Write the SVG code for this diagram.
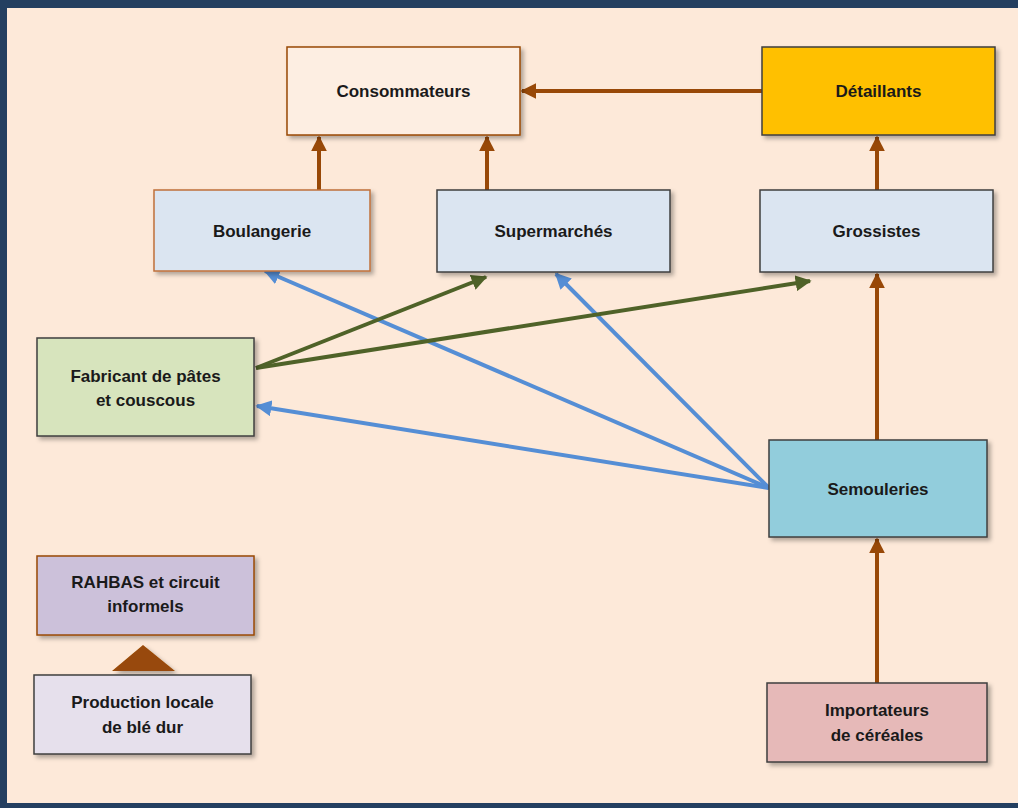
<svg xmlns="http://www.w3.org/2000/svg" width="1018" height="808" viewBox="0 0 1018 808">
<defs>
<marker id="ab" viewBox="0 0 10 10" refX="9" refY="5" markerWidth="4" markerHeight="4" orient="auto" markerUnits="strokeWidth"><path d="M0,0 L10,5 L0,10 z" fill="#984807"/></marker>
<marker id="ag" viewBox="0 0 10 10" refX="9" refY="5" markerWidth="4" markerHeight="4" orient="auto" markerUnits="strokeWidth"><path d="M0,0 L10,5 L0,10 z" fill="#4f6228"/></marker>
<marker id="al" viewBox="0 0 10 10" refX="9" refY="5" markerWidth="4" markerHeight="4" orient="auto" markerUnits="strokeWidth"><path d="M0,0 L10,5 L0,10 z" fill="#558ed5"/></marker>
<filter id="sh" x="-10%" y="-10%" width="125%" height="130%"><feDropShadow dx="3" dy="3" stdDeviation="2" flood-color="#000" flood-opacity="0.3"/></filter>
</defs>
<style>
.box{stroke-width:1.5;filter:url(#sh)}
.t{font-family:"Liberation Sans",Arial,sans-serif;font-weight:bold;font-size:17px;fill:#1a1a1a;text-anchor:middle}
.b{stroke:#984807;stroke-width:4;fill:none;marker-end:url(#ab)}
.g{stroke:#4f6228;stroke-width:4;fill:none;marker-end:url(#ag)}
.l{stroke:#558ed5;stroke-width:4;fill:none;marker-end:url(#al)}
</style>
<rect x="0" y="0" width="1018" height="808" fill="#243f60"/>
<rect x="7" y="8" width="1011" height="795" fill="#fde9d9"/>
<g id="connectors">
<line class="b" x1="762" y1="91" x2="522" y2="91"/>
<line class="b" x1="319" y1="190" x2="319" y2="137"/>
<line class="b" x1="487" y1="190" x2="487" y2="137"/>
<line class="b" x1="877" y1="190" x2="877" y2="137"/>
<line class="b" x1="877" y1="440" x2="877" y2="274"/>
<line class="b" x1="877" y1="683" x2="877" y2="539"/>
<line class="l" x1="769" y1="488" x2="265" y2="271"/>
<line class="l" x1="769" y1="488" x2="556" y2="274"/>
<line class="l" x1="769" y1="488" x2="257" y2="406"/>
<line class="g" x1="256" y1="368" x2="486" y2="277"/>
<line class="g" x1="256" y1="368" x2="810" y2="281"/>
</g>
<g id="consommateurs"><rect class="box" x="287" y="47" width="233" height="88" fill="#fdeee2" stroke="#984807"/><text class="t" x="403.5" y="97">Consommateurs</text></g>
<g id="detaillants"><rect class="box" x="762" y="47" width="233" height="88" fill="#ffc000" stroke="#3f3f3f"/><text class="t" x="878.5" y="97">Détaillants</text></g>
<g id="boulangerie"><rect class="box" x="154" y="190" width="216" height="81" fill="#dbe5f1" stroke="#c0703a"/><text class="t" x="262" y="237">Boulangerie</text></g>
<g id="supermarches"><rect class="box" x="437" y="190" width="233" height="82" fill="#dbe5f1" stroke="#3f3f3f"/><text class="t" x="553.5" y="237">Supermarchés</text></g>
<g id="grossistes"><rect class="box" x="760" y="190" width="233" height="82" fill="#dbe5f1" stroke="#3f3f3f"/><text class="t" x="876.5" y="237">Grossistes</text></g>
<g id="fabricant"><rect class="box" x="37" y="338" width="217" height="98" fill="#d7e4bd" stroke="#3f3f3f"/><text class="t" x="145.5" y="382">Fabricant de pâtes</text><text class="t" x="145.5" y="406">et couscous</text></g>
<g id="semouleries"><rect class="box" x="769" y="440" width="218" height="97" fill="#92cddc" stroke="#3f3f3f"/><text class="t" x="878" y="495">Semouleries</text></g>
<g id="rahbas"><rect class="box" x="37" y="556" width="217" height="79" fill="#ccc1da" stroke="#984807"/><text class="t" x="145.5" y="588">RAHBAS et circuit</text><text class="t" x="145.5" y="612">informels</text></g>
<g id="triangle"><polygon points="112,671 143,645 175,671" fill="#984807" filter="url(#sh)"/></g>
<g id="production"><rect class="box" x="34" y="675" width="217" height="79" fill="#e6e0ec" stroke="#3f3f3f"/><text class="t" x="142.5" y="708">Production locale</text><text class="t" x="142.5" y="733">de blé dur</text></g>
<g id="importateurs"><rect class="box" x="767" y="683" width="220" height="79" fill="#e6b9b8" stroke="#3f3f3f"/><text class="t" x="877" y="716">Importateurs</text><text class="t" x="877" y="741">de céréales</text></g>
</svg>
